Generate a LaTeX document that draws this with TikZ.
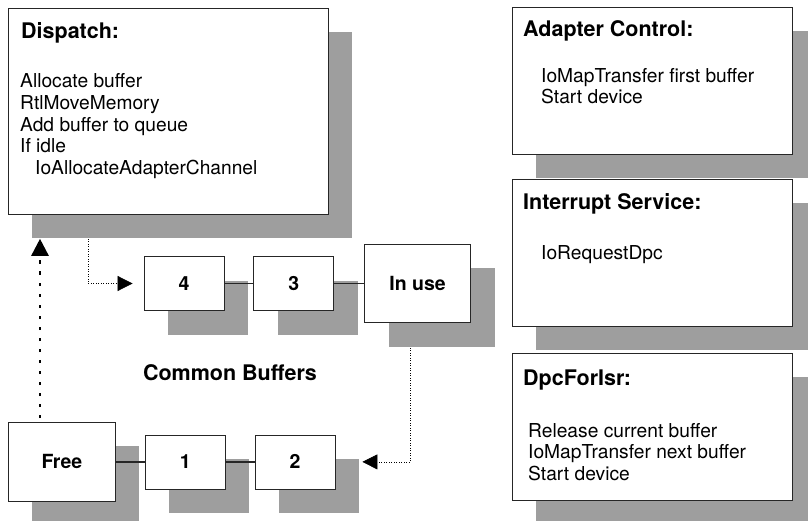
\documentclass[tikz,border=0pt]{standalone}
\usepackage{fontspec}
\setmainfont{TeX Gyre Heros}
\usetikzlibrary{arrows.meta,positioning,calc,shadows}
\tikzset{
  shadebox/.style={draw=black!85, line width=0.8pt, fill=white, drop shadow={shadow xshift=24pt, shadow yshift=-24pt, fill=black!38, opacity=1}},
  procbox/.style={shadebox, anchor=north west, minimum width=280pt, minimum height=147pt, inner sep=0pt},
  bufbox/.style={shadebox, minimum width=80pt, minimum height=54pt, inner sep=0pt, font=\fontsize{19.5}{22}\selectfont\bfseries},
  proctitle/.style={anchor=base west, inner sep=0pt, font=\fontsize{21.5}{25}\selectfont\bfseries},
  proctext/.style={anchor=base west, inner sep=0pt, font=\fontsize{19.2}{21.7}\selectfont},
  chainline/.style={line width=1.8pt, black!85},
  flowdot/.style={-{Triangle[length=15pt,width=15pt]}, line width=0.7pt, dash pattern=on 1pt off 1.5pt},
  loopdot/.style={-{Triangle[length=17pt,width=17pt]}, line width=2.6pt, dash pattern=on 3.5pt off 7.5pt}
}
\begin{document}
\begin{tikzpicture}[x=1pt, y=-1pt]
\useasboundingbox (0,0) rectangle (808,521);
% routines
\node[procbox, minimum width=320pt, minimum height=206pt] (dispatch) at (8,8) {};
\node[proctitle] (dtitle) at (21,39) {Dispatch:};
\node[proctext] (d1) at (20,88) {Allocate buffer};
\node[proctext] (d2) at (20,110) {RtlMoveMemory};
\node[proctext] (d3) at (20,132) {Add buffer to queue};
\node[proctext] (d4) at (20,153) {If idle};
\node[proctext] (d5) at (35,175) {IoAllocateAdapterChannel};

\node[procbox] (adapter) at (512,7) {};
\node[proctitle] (atitle) at (523,37) {Adapter Control:};
\node[proctext] (a1) at (541,83) {IoMapTransfer first buffer};
\node[proctext] (a2) at (541,104) {Start device};

\node[procbox] (isr) at (512,179) {};
\node[proctitle] (ititle) at (523,210) {Interrupt Service:};
\node[proctext] (i1) at (541,260) {IoRequestDpc};

\node[procbox] (dpc) at (512,353) {};
\node[proctitle] (ptitle) at (523,385) {DpcForIsr:};
\node[proctext] (p1) at (528,437) {Release current buffer};
\node[proctext] (p2) at (528,458) {IoMapTransfer next buffer};
\node[proctext] (p3) at (528,480) {Start device};

% common buffers
\node[bufbox] (b4) at (184,283.5) {4};
\node[bufbox, right=29pt of b4] (b3) {3};
\node[bufbox, right=30pt of b3, minimum width=106pt, minimum height=78pt] (inuse) {In use};
\node[bufbox, anchor=north west, minimum width=107pt, minimum height=79pt] (free) at (8,422) {Free};
\node[bufbox, right=29pt of free] (b1) {1};
\node[bufbox, right=29pt of b1] (b2) {2};
\node[proctitle, anchor=center] (common) at (230,373) {Common Buffers};

\draw[chainline] (free) -- (b1);
\draw[chainline] (b1) -- (b2);
\draw[chainline] (b4) -- (b3);
\draw[chainline] (b3) -- (inuse);

\draw[flowdot, shorten <=24pt, shorten >=11pt] ($(dispatch.south west)+(80,0)$) |- (b4.west);
\draw[flowdot, shorten <=25pt, shorten >=27pt] ($(inuse.south)+(-7,0)$) |- (b2.east);
\draw[loopdot, shorten <=4pt, shorten >=24pt] ($(free.north west)+(32,0)$) -- ($(dispatch.south west)+(32,0)$);
\end{tikzpicture}
\end{document}
